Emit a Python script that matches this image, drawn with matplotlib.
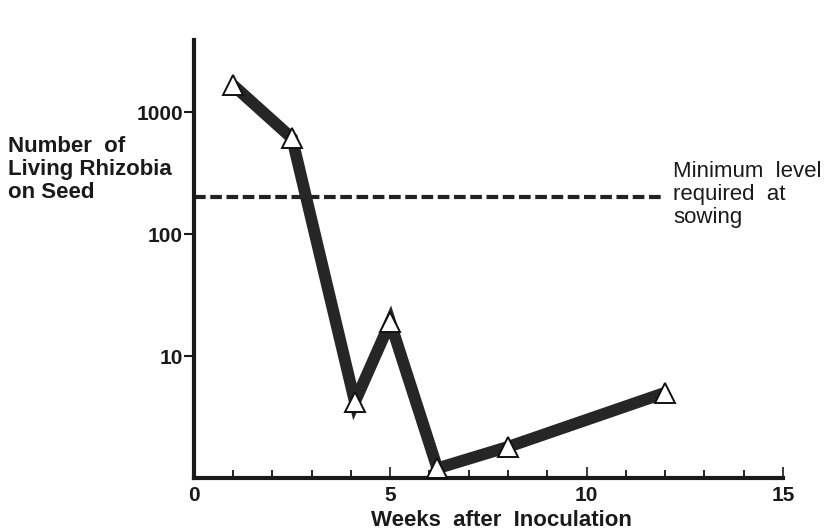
import numpy as np
import matplotlib.pyplot as plt
from matplotlib.ticker import FixedLocator, NullLocator, NullFormatter

plt.rcParams['font.family'] = ['Liberation Sans', 'DejaVu Sans']

# data
weeks = [1, 2.5, 4.1, 5, 6.2, 8, 12]
rhizobia = [1660, 610, 4.2, 19, 1.2, 1.8, 5.0]
min_level = 200
y_ticks = [10, 100, 1000]
x_ticks = [0, 5, 10, 15]

fig = plt.figure(figsize=(8.25, 5.31), dpi=100)
ax = fig.add_axes([0.235, 0.0998, 0.714, 0.825])

# minimum level line
ax.plot([0, 12], [min_level, min_level], color='#222222', lw=3,
        dashes=(2.8, 1.1), solid_capstyle='butt')

ax.plot(weeks, rhizobia, color='#262626', lw=8.5, solid_joinstyle='miter',
        solid_capstyle='butt', zorder=3)
ax.plot(weeks, rhizobia, ls='none', marker='^', ms=15, mfc='white',
        mec='#111111', mew=1.4, zorder=4)

ax.set_yscale('log')
ax.set_ylim(1, 3900)
ax.set_xlim(0, 15)

ax.yaxis.set_major_locator(FixedLocator(y_ticks))
ax.yaxis.set_minor_locator(NullLocator())
ax.yaxis.set_minor_formatter(NullFormatter())
ax.set_yticklabels([str(t) for t in y_ticks])
ax.xaxis.set_major_locator(FixedLocator(x_ticks))
ax.xaxis.set_minor_locator(FixedLocator(range(1, 15)))

ax.tick_params(axis='y', which='major', direction='out', length=7, width=1.5,
               pad=1, labelsize=15, colors='#1a1a1a')
ax.tick_params(axis='x', which='major', direction='in', length=8, width=1.2,
               pad=6, labelsize=15, colors='#1a1a1a')
ax.tick_params(axis='x', which='minor', direction='in', length=6, width=1.2)
for lab in ax.get_xticklabels() + ax.get_yticklabels():
    lab.set_fontweight('bold')

for s in ['top', 'right']:
    ax.spines[s].set_visible(False)
for s in ['left', 'bottom']:
    ax.spines[s].set_linewidth(3)
    ax.spines[s].set_color('#1a1a1a')
ax.set_facecolor('none')

fig.text(8 / 825, 1 - 136 / 531, 'Number  of\nLiving Rhizobia\non Seed',
         fontsize=16, fontweight='bold', color='#1a1a1a', va='top', ha='left',
         linespacing=1.12)
fig.text(673 / 825, 1 - 161 / 531, 'Minimum  level\nrequired  at\nsowing',
         fontsize=16, color='#1a1a1a', va='top', ha='left', linespacing=1.12)
fig.text(501 / 825, 1 - 521 / 531, 'Weeks  after  Inoculation',
         fontsize=16, fontweight='bold', color='#1a1a1a', va='center',
         ha='center')

fig.savefig('out.png', dpi=100)
